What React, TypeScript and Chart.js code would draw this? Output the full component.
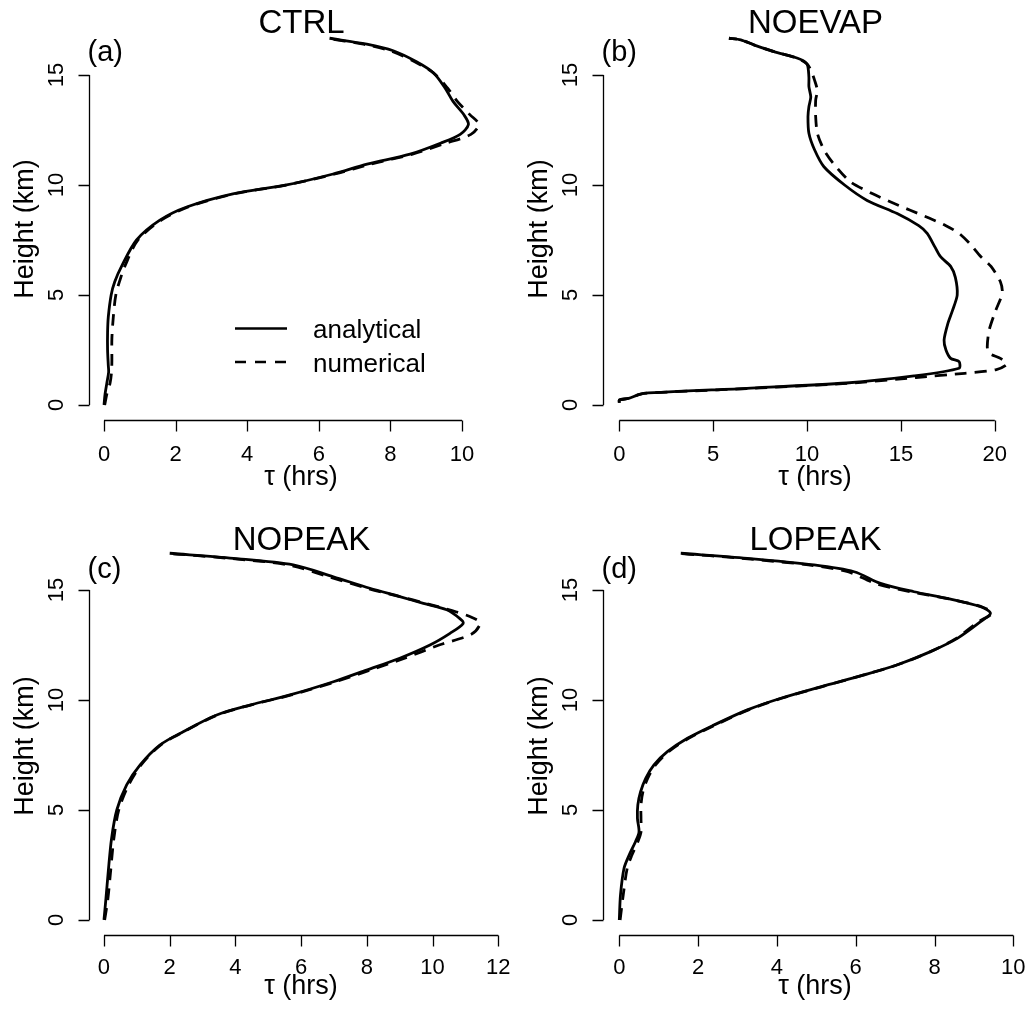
import React, { useEffect, useRef } from "react";
import { Chart, registerables } from "chart.js";

Chart.register(...registerables);

const FONT = '"Liberation Sans", Arial, Helvetica, sans-serif';

// ---------- tick labels ----------
const heightTicks = [0, 5, 10, 15];
const ctrlTauTicks = [0, 2, 4, 6, 8, 10];
const noevapTauTicks = [0, 5, 10, 15, 20];
const nopeakTauTicks = [0, 2, 4, 6, 8, 10, 12];
const lopeakTauTicks = [0, 2, 4, 6, 8, 10];

const seriesNames = ["analytical", "numerical"];

// ---------- (a) CTRL ----------
const ctrlAnaTau = [0.0, 0.03, 0.08, 0.13, 0.12, 0.1, 0.1, 0.12, 0.2, 0.3, 0.49, 0.91, 1.56, 2.31, 3.6, 5.1, 6.4, 7.35, 8.55, 9.4, 9.95, 10.18, 10.05, 9.75, 9.53, 9.2, 8.73, 8.08, 7.34, 6.3];
const ctrlAnaH = [0, 0.5, 1.0, 1.5, 1.8, 2.5, 3.3, 4.0, 5.0, 5.6, 6.3, 7.5, 8.4, 9.0, 9.6, 10.0, 10.5, 10.95, 11.4, 11.9, 12.3, 12.75, 13.2, 13.8, 14.4, 15.1, 15.6, 16.1, 16.4, 16.67];
const ctrlNumTau = [0.02, 0.08, 0.17, 0.21, 0.22, 0.22, 0.26, 0.33, 0.45, 0.58, 0.95, 1.6, 2.35, 3.65, 5.1, 6.45, 7.45, 8.62, 9.55, 10.25, 10.47, 10.22, 9.87, 9.6, 9.2, 8.68, 8.0, 7.25, 6.2];
const ctrlNumH = [0, 0.5, 1.0, 1.5, 2.0, 3.0, 4.0, 5.0, 5.7, 6.3, 7.5, 8.4, 9.0, 9.6, 10.0, 10.5, 10.95, 11.4, 11.9, 12.3, 12.75, 13.2, 13.8, 14.4, 15.1, 15.6, 16.1, 16.4, 16.67];

// ---------- (b) NOEVAP ----------
const noevapAnaTau = [0.0, 0.0, 0.5, 0.96, 1.3, 6.8, 12.1, 15.7, 18.1, 18.1, 17.65, 17.4, 17.3, 17.5, 17.75, 18.0, 17.9, 17.65, 17.1, 16.8, 16.4, 15.95, 14.8, 13.2, 12.0, 10.9, 10.4, 10.1, 10.05, 10.1, 10.2, 10.1, 10.1, 10.0, 9.5, 8.24, 7.2, 6.47, 5.84];
const noevapAnaH = [0.1, 0.23, 0.3, 0.45, 0.53, 0.76, 1.0, 1.32, 1.67, 1.97, 2.12, 2.5, 2.95, 3.7, 4.3, 5.0, 5.8, 6.3, 6.75, 7.2, 7.8, 8.15, 8.7, 9.3, 10.0, 10.83, 11.6, 12.35, 13.1, 13.56, 14.0, 14.47, 14.9, 15.5, 15.76, 16.06, 16.36, 16.6, 16.67];
const noevapNumTau = [0.0, 0.0, 0.5, 0.96, 1.3, 6.8, 12.1, 15.8, 18.4, 20.05, 20.64, 20.3, 19.7, 19.6, 19.7, 20.05, 20.4, 20.3, 19.8, 19.25, 18.65, 18.1, 17.4, 16.5, 15.5, 14.4, 13.5, 12.3, 11.4, 10.9, 10.55, 10.46, 10.46, 10.55, 10.4, 10.2, 10.0, 9.5, 8.24, 7.2, 6.47, 5.84];
const noevapNumH = [0.1, 0.23, 0.3, 0.45, 0.53, 0.75, 0.98, 1.25, 1.44, 1.6, 1.85, 2.12, 2.35, 2.65, 3.4, 4.3, 5.08, 5.6, 6.3, 6.75, 7.35, 7.8, 8.15, 8.5, 8.85, 9.25, 9.6, 10.15, 10.98, 11.6, 12.35, 13.1, 13.86, 14.3, 14.77, 15.23, 15.5, 15.76, 16.06, 16.36, 16.6, 16.67];

// ---------- (c) NOPEAK ----------
const nopeakAnaTau = [0.0, 0.06, 0.13, 0.23, 0.39, 0.69, 1.1, 1.7, 2.41, 3.43, 4.44, 5.66, 6.98, 7.99, 9.0, 9.92, 10.53, 10.93, 10.83, 10.43, 9.72, 9.0, 8.09, 6.98, 5.76, 3.94, 2.0];
const nopeakAnaH = [0, 0.98, 2.2, 3.7, 5.0, 6.14, 7.05, 7.95, 8.56, 9.32, 9.77, 10.23, 10.83, 11.36, 11.9, 12.5, 13.03, 13.48, 13.7, 14.1, 14.39, 14.7, 15.08, 15.6, 16.14, 16.44, 16.67];
const nopeakNumTau = [0.02, 0.12, 0.2, 0.3, 0.45, 0.75, 1.13, 1.72, 2.43, 3.45, 4.46, 5.7, 7.05, 8.1, 9.15, 10.2, 11.19, 11.45, 11.2, 10.73, 9.8, 9.0, 8.0, 6.85, 5.6, 3.8, 1.9];
const nopeakNumH = [0, 0.98, 2.2, 3.7, 5.0, 6.14, 7.05, 7.95, 8.56, 9.32, 9.77, 10.23, 10.83, 11.36, 11.9, 12.5, 13.0, 13.5, 13.75, 14.0, 14.39, 14.7, 15.08, 15.6, 16.14, 16.44, 16.67];

// ---------- (d) LOPEAK ----------
const lopeakAnaTau = [0.0, 0.03, 0.12, 0.25, 0.41, 0.5, 0.46, 0.47, 0.54, 0.67, 0.88, 1.22, 1.73, 2.4, 3.25, 4.1, 5.11, 6.21, 7.06, 7.9, 8.58, 9.17, 9.42, 9.17, 8.32, 7.48, 6.63, 5.96, 4.94, 3.25, 1.56];
const lopeakAnaH = [0, 1.14, 2.35, 2.95, 3.56, 4.0, 4.62, 5.23, 5.83, 6.44, 7.05, 7.65, 8.26, 8.86, 9.55, 10.08, 10.6, 11.14, 11.6, 12.2, 12.8, 13.56, 13.94, 14.24, 14.62, 14.92, 15.3, 15.83, 16.14, 16.44, 16.67];
const lopeakNumTau = [0.02, 0.1, 0.2, 0.32, 0.47, 0.55, 0.55, 0.55, 0.6, 0.72, 0.92, 1.25, 1.76, 2.43, 3.28, 4.12, 5.13, 6.21, 7.06, 7.9, 8.55, 9.12, 9.45, 9.2, 8.3, 7.4, 6.5, 5.8, 4.8, 3.1, 1.5];
const lopeakNumH = [0, 1.14, 2.35, 2.95, 3.56, 4.0, 4.62, 5.23, 5.83, 6.44, 7.05, 7.65, 8.26, 8.86, 9.55, 10.08, 10.6, 11.14, 11.6, 12.2, 12.8, 13.56, 13.94, 14.24, 14.62, 14.92, 15.3, 15.83, 16.14, 16.44, 16.67];

type Row = {
  canvasTop: number;
  areaTop: number;
  areaBottom: number;
  tickBase: number;
  xlabBase: number;
  titleBase: number;
  tagBase: number;
  ylabY: number;
};

const topRow: Row = { canvasTop: 0, areaTop: 24, areaBottom: 420, tickBase: 461, xlabBase: 485, titleBase: 33, tagBase: 61, ylabY: 229 };
const bottomRow: Row = { canvasTop: 505, areaTop: 34, areaBottom: 430, tickBase: 469, xlabBase: 489, titleBase: 45, tagBase: 73, ylabY: 241 };

type PanelCfg = {
  title: string;
  tag: string;
  left: number;
  width: number;
  row: Row;
  xMin: number;
  xMax: number;
  xTicks: number[];
  anaTau: number[];
  anaH: number[];
  numTau: number[];
  numH: number[];
  legend: boolean;
  tension: number;
};

const Y_MIN = -0.682;
const Y_MAX = 17.318;

const zip = (t: number[], h: number[]) => t.map((v, i) => ({ x: v, y: h[i] }));

function Panel({ cfg }: { cfg: PanelCfg }) {
  const ref = useRef<HTMLCanvasElement | null>(null);
  const H = 505;
  useEffect(() => {
    const canvas = ref.current;
    if (!canvas) return;
    const r = cfg.row;
    const axesPlugin = {
      id: "rAxes",
      afterDraw(chart: any) {
        const ctx: CanvasRenderingContext2D = chart.ctx;
        const xs = chart.scales.x;
        const ys = chart.scales.y;
        const a = chart.chartArea;
        ctx.save();
        ctx.strokeStyle = "#000";
        ctx.fillStyle = "#000";
        ctx.lineWidth = 1.3;
        ctx.setLineDash([]);
        const tick = 11;
        // y axis
        const ax = Math.round(a.left) + 0.5;
        ctx.beginPath();
        ctx.moveTo(ax, ys.getPixelForValue(heightTicks[0]));
        ctx.lineTo(ax, ys.getPixelForValue(heightTicks[heightTicks.length - 1]));
        heightTicks.forEach((t) => {
          const y = Math.round(ys.getPixelForValue(t)) + 0.5;
          ctx.moveTo(ax, y);
          ctx.lineTo(ax - tick, y);
        });
        ctx.stroke();
        ctx.font = `22px ${FONT}`;
        ctx.textAlign = "center";
        ctx.textBaseline = "alphabetic";
        heightTicks.forEach((t) => {
          const y = ys.getPixelForValue(t);
          ctx.save();
          ctx.translate(ax - 27, y);
          ctx.rotate(-Math.PI / 2);
          ctx.fillText(String(t), 0, 0);
          ctx.restore();
        });
        // x axis
        const by = Math.round(a.bottom) + 0.5;
        ctx.beginPath();
        ctx.moveTo(xs.getPixelForValue(cfg.xTicks[0]), by);
        ctx.lineTo(xs.getPixelForValue(cfg.xTicks[cfg.xTicks.length - 1]), by);
        cfg.xTicks.forEach((t) => {
          const x = Math.round(xs.getPixelForValue(t)) + 0.5;
          ctx.moveTo(x, by);
          ctx.lineTo(x, by + tick);
        });
        ctx.stroke();
        cfg.xTicks.forEach((t) => {
          ctx.fillText(String(t), xs.getPixelForValue(t), r.tickBase);
        });
        // axis titles
        ctx.font = `27px ${FONT}`;
        ctx.fillText("\u03C4 (hrs)", 301, r.xlabBase);
        ctx.save();
        ctx.translate(32.5, r.ylabY);
        ctx.rotate(-Math.PI / 2);
        ctx.fillText("Height (km)", 0, 0);
        ctx.restore();
        // main title
        ctx.font = `33px ${FONT}`;
        ctx.fillText(cfg.title, 301.5, r.titleBase);
        // panel tag
        ctx.font = `29px ${FONT}`;
        ctx.textAlign = "left";
        ctx.fillText(cfg.tag, ax - 2, r.tagBase);
        // legend
        if (cfg.legend) {
          ctx.lineWidth = 2.6;
          ctx.beginPath();
          ctx.moveTo(235, 328.5);
          ctx.lineTo(287, 328.5);
          ctx.stroke();
          ctx.setLineDash([11, 9]);
          ctx.beginPath();
          ctx.moveTo(235, 362);
          ctx.lineTo(287, 362);
          ctx.stroke();
          ctx.setLineDash([]);
          ctx.font = `26px ${FONT}`;
          ctx.fillText(seriesNames[0], 313, 338);
          ctx.fillText(seriesNames[1], 313, 371.5);
        }
        ctx.restore();
      },
    };
    const chart = new Chart(canvas, {
      type: "scatter",
      data: {
        datasets: [
          {
            label: seriesNames[1],
            data: zip(cfg.numTau, cfg.numH),
            showLine: true,
            borderColor: "#000",
            backgroundColor: "#000",
            borderWidth: 2.8,
            borderDash: [12, 8],
            pointRadius: 0,
            tension: cfg.tension,
            fill: false,
          },
          {
            label: seriesNames[0],
            data: zip(cfg.anaTau, cfg.anaH),
            showLine: true,
            borderColor: "#000",
            backgroundColor: "#000",
            borderWidth: 2.8,
            pointRadius: 0,
            tension: cfg.tension,
            fill: false,
          },
        ],
      },
      options: {
        animation: false,
        responsive: false,
        devicePixelRatio: 1,
        events: [],
        layout: {
          padding: { left: 89, right: cfg.width - 514, top: r.areaTop, bottom: H - r.areaBottom },
        },
        scales: {
          x: { type: "linear", min: cfg.xMin, max: cfg.xMax, display: false },
          y: { type: "linear", min: Y_MIN, max: Y_MAX, display: false },
        },
        plugins: {
          legend: { display: false },
          title: { display: false },
          tooltip: { enabled: false },
        },
      },
      plugins: [axesPlugin],
    } as any);
    return () => chart.destroy();
  }, [cfg]);
  return (
    <canvas
      ref={ref}
      width={cfg.width}
      height={H}
      style={{ position: "absolute", left: cfg.left, top: cfg.row.canvasTop, width: cfg.width, height: H }}
    />
  );
}

const panels: PanelCfg[] = [
  { title: "CTRL", tag: "(a)", left: 0, width: 514, row: topRow, xMin: -0.419, xMax: 11.453, xTicks: ctrlTauTicks, anaTau: ctrlAnaTau, anaH: ctrlAnaH, numTau: ctrlNumTau, numH: ctrlNumH, legend: true, tension: 0.3 },
  { title: "NOEVAP", tag: "(b)", left: 514, width: 515, row: topRow, xMin: -0.868, xMax: 21.77, xTicks: noevapTauTicks, anaTau: noevapAnaTau, anaH: noevapAnaH, numTau: noevapNumTau, numH: noevapNumH, legend: false, tension: 0.25 },
  { title: "NOPEAK", tag: "(c)", left: 0, width: 514, row: bottomRow, xMin: -0.456, xMax: 12.477, xTicks: nopeakTauTicks, anaTau: nopeakAnaTau, anaH: nopeakAnaH, numTau: nopeakNumTau, numH: nopeakNumH, legend: false, tension: 0.3 },
  { title: "LOPEAK", tag: "(d)", left: 514, width: 515, row: bottomRow, xMin: -0.414, xMax: 10.373, xTicks: lopeakTauTicks, anaTau: lopeakAnaTau, anaH: lopeakAnaH, numTau: lopeakNumTau, numH: lopeakNumH, legend: false, tension: 0.3 },
];

export default function App() {
  return (
    <div style={{ position: "fixed", left: 0, top: 0, width: 1029, height: 1010, overflow: "hidden", background: "#fff" }}>
      {panels.map((p) => (
        <Panel key={p.title} cfg={p} />
      ))}
    </div>
  );
}
